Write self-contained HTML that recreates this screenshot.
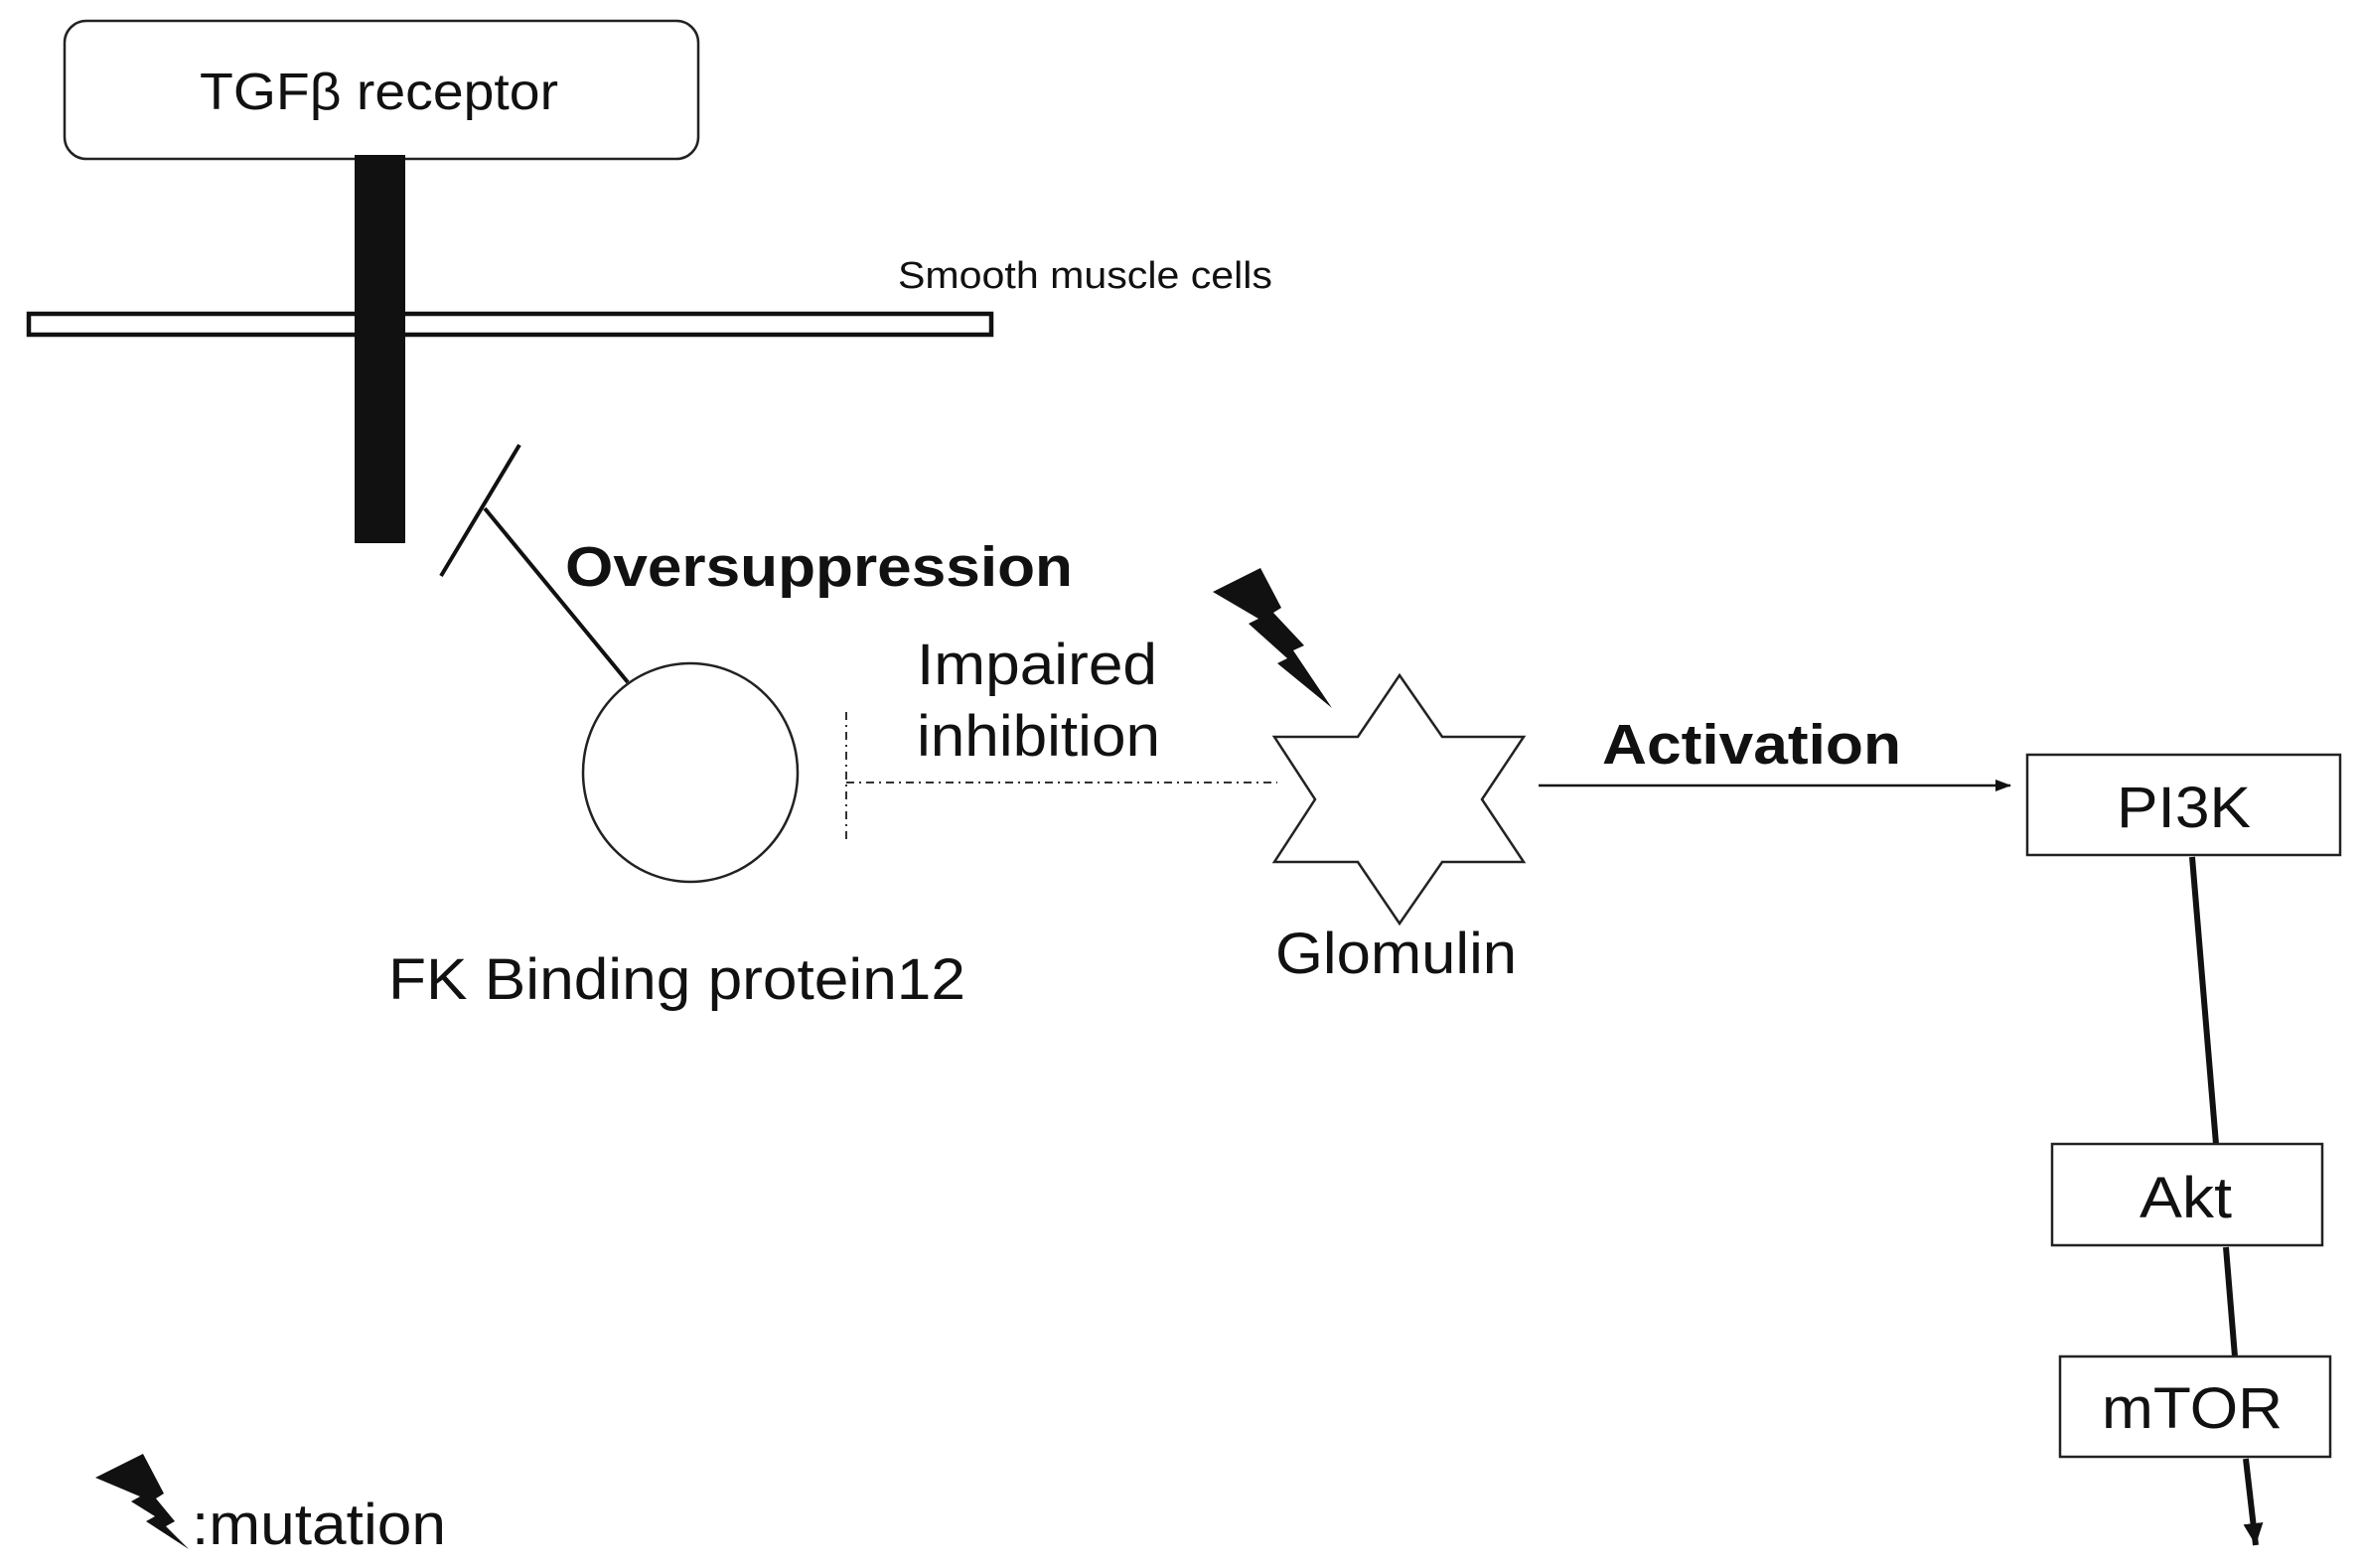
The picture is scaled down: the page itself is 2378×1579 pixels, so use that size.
<!DOCTYPE html>
<html><head><meta charset="utf-8"><style>
html,body{margin:0;padding:0;background:#fff}
svg{display:block}
text{font-family:"Liberation Sans",Arial,sans-serif;fill:#111}
</style></head><body>
<svg width="2378" height="1579" viewBox="0 0 2378 1579" xmlns="http://www.w3.org/2000/svg">
<defs>
<marker id="ah" markerWidth="16" markerHeight="14" refX="15" refY="7" orient="auto" markerUnits="userSpaceOnUse">
<path d="M0,1 L16,7 L0,13 z" fill="#111"/></marker>
<marker id="ah2" markerWidth="24" markerHeight="24" refX="22" refY="12" orient="auto" markerUnits="userSpaceOnUse">
<path d="M0,2 L22,12 L0,22 z" fill="#111"/></marker>
</defs>
<rect x="65" y="21" width="638" height="139" rx="22" fill="#fff" stroke="#222" stroke-width="2.5"/>
<text x="201" y="110" font-size="52" textLength="361" lengthAdjust="spacingAndGlyphs">TGFβ receptor</text>
<rect x="29" y="316" width="969" height="21" fill="#fff" stroke="#111" stroke-width="4.5"/>
<rect x="357" y="156" width="51" height="391" fill="#111"/>
<text x="904" y="290" font-size="38" textLength="377" lengthAdjust="spacingAndGlyphs">Smooth muscle cells</text>
<line x1="523" y1="448" x2="444" y2="580" stroke="#111" stroke-width="4"/>
<line x1="488" y1="512" x2="632" y2="687" stroke="#111" stroke-width="4"/>
<text x="569" y="590" font-size="57" font-weight="bold" textLength="511" lengthAdjust="spacingAndGlyphs">Oversuppression</text>
<ellipse cx="695" cy="778" rx="108" ry="110" fill="#fff" stroke="#222" stroke-width="2.5"/>
<line x1="852" y1="717" x2="852" y2="845" stroke="#333" stroke-width="2" stroke-dasharray="8,5,2,5"/>
<line x1="852" y1="788" x2="1286" y2="788" stroke="#333" stroke-width="2" stroke-dasharray="8,5,2,5"/>
<text x="923" y="689" font-size="58" textLength="242" lengthAdjust="spacingAndGlyphs">Impaired</text>
<text x="923" y="761" font-size="58" textLength="245" lengthAdjust="spacingAndGlyphs">inhibition</text>
<text x="391" y="1006" font-size="58" textLength="581" lengthAdjust="spacingAndGlyphs">FK Binding protein12</text>
<polygon points="1409,680 1452,742 1534,742 1492,805 1534,868 1452,868 1409,930 1367,868 1283,868 1324,805 1283,742 1367,742" fill="#fff" stroke="#222" stroke-width="2.5"/>
<text x="1284" y="980" font-size="58" textLength="243" lengthAdjust="spacingAndGlyphs">Glomulin</text>
<polygon points="1221,596 1269,572 1290,612 1282,617 1313,650 1302,655 1341,713 1286,668 1296,663 1257,628 1267,623" fill="#111"/>
<polygon points="96,1488 144,1464 165,1504 157,1509 176,1532 167,1537 190,1560 147,1532 156,1527 132,1512 141,1507" fill="#111"/>
<text x="193" y="1555" font-size="58" textLength="256" lengthAdjust="spacingAndGlyphs">:mutation</text>
<text x="1613" y="769" font-size="57" font-weight="bold" textLength="301" lengthAdjust="spacingAndGlyphs">Activation</text>
<line x1="1549" y1="791" x2="2024" y2="791" stroke="#111" stroke-width="2.5" marker-end="url(#ah)"/>
<rect x="2041" y="760" width="315" height="101" fill="#fff" stroke="#222" stroke-width="2.5"/>
<text x="2131" y="833" font-size="58" textLength="135" lengthAdjust="spacingAndGlyphs">PI3K</text>
<line x1="2207" y1="863" x2="2231" y2="1152" stroke="#111" stroke-width="6"/>
<rect x="2066" y="1152" width="272" height="102" fill="#fff" stroke="#222" stroke-width="2.5"/>
<text x="2154" y="1226" font-size="58" textLength="93" lengthAdjust="spacingAndGlyphs">Akt</text>
<line x1="2241" y1="1256" x2="2250" y2="1366" stroke="#111" stroke-width="6"/>
<rect x="2074" y="1366" width="272" height="101" fill="#fff" stroke="#222" stroke-width="2.5"/>
<text x="2116" y="1438" font-size="58" textLength="182" lengthAdjust="spacingAndGlyphs">mTOR</text>
<line x1="2261" y1="1469" x2="2271" y2="1556" stroke="#111" stroke-width="6" marker-end="url(#ah2)"/>
</svg>
</body></html>
